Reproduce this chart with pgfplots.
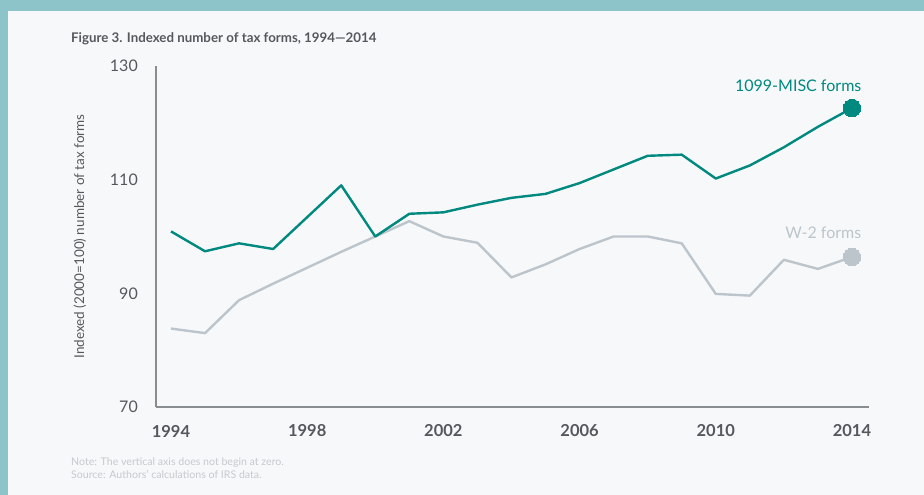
\documentclass[border=0pt]{standalone}
\usepackage{pgfplots}
\pgfplotsset{compat=1.18}
\usepackage{fontspec}
\setmainfont{Lato}
\definecolor{frame}{HTML}{8DC4C9}
\definecolor{panel}{HTML}{F7F8FA}
\definecolor{misc}{HTML}{00897F}
\definecolor{wtwo}{HTML}{BCC5CB}
\definecolor{txt}{HTML}{55595D}
\definecolor{axisc}{HTML}{8A8D90}
\definecolor{note}{HTML}{C5CACE}
\pgfplotstableread{
year misc w2
1994 100.9 83.8
1995 97.4 83.0
1996 98.8 88.8
1997 97.8 91.7
1998 103.4 94.5
1999 109.0 97.3
2000 100.0 100.0
2001 104.0 102.7
2002 104.25 100.0
2003 105.6 98.9
2004 106.8 92.8
2005 107.5 95.1
2006 109.4 97.8
2007 111.8 100.0
2008 114.2 100.0
2009 114.4 98.8
2010 110.2 89.9
2011 112.5 89.6
2012 115.7 95.9
2013 119.3 94.3
2014 122.6 96.4
}\datatable
\begin{document}
\begin{tikzpicture}
\fill[panel] (0pt,0pt) rectangle (924pt,-495pt);
\fill[frame] (0pt,0pt) rectangle (924pt,-11pt);
\fill[frame] (0pt,0pt) rectangle (8pt,-495pt);
\node[anchor=west, inner sep=0pt, font=\bfseries\fontsize{13.3}{15}\selectfont, text=txt] at (71pt,-39pt) {Figure 3. Indexed number of tax forms, 1994—2014};
\node[anchor=west, inner sep=0pt, font=\fontsize{10.6}{12}\selectfont, text=note] at (71pt,-463pt) {Note: The vertical axis does not begin at zero.};
\node[anchor=west, inner sep=0pt, font=\fontsize{10.6}{12}\selectfont, text=note] at (71pt,-474pt) {Source: Authors’ calculations of IRS data.};
\begin{axis}[
  at={(156pt,-407pt)}, anchor=south west,
  scale only axis, width=713pt, height=341pt,
  xmin=1993.56, xmax=2014.5, ymin=70, ymax=130,
  axis x line*=bottom, axis y line*=left,
  axis line style={draw=axisc, line width=1.2pt, -},
  major tick length=0pt,
  xtick={1994,1998,2002,2006,2010,2014},
  ytick={70,90,110,130},
  /pgf/number format/.cd, set thousands separator={}, assume math mode=true,
  /pgfplots/.cd,
  xticklabel style={font=\bfseries\fontsize{16.5}{18}\selectfont, text=txt, anchor=center, inner sep=0pt, yshift=-24pt},
  yticklabel style={font=\fontsize{16}{18}\selectfont, text=txt, anchor=east, inner sep=0pt, xshift=-18pt},
  ylabel={Indexed (2000=100) number of tax forms},
  every axis y label/.style={at={(axis description cs:-0.1066,0.5)}, rotate=90, anchor=center, font=\fontsize{13.5}{15}\selectfont, text=txt},
  clip=false,
]
\addplot[wtwo, line width=2.4pt, line join=round] table[x=year, y=w2] {\datatable};
\addplot[misc, line width=2.4pt, line join=round] table[x=year, y=misc] {\datatable};
\addplot[wtwo, only marks, mark=*, mark size=8.7pt, mark options={fill=wtwo, draw=wtwo, line width=0pt}] coordinates {(2014,96.4)};
\addplot[misc, only marks, mark=*, mark size=8.7pt, mark options={fill=misc, draw=misc, line width=0pt}] coordinates {(2014,122.6)};
\node[anchor=east, inner sep=0pt, font=\fontsize{16}{18}\selectfont, text=misc] at (axis cs:2014.28,126.5) {1099-MISC forms};
\node[anchor=east, inner sep=0pt, font=\fontsize{16}{18}\selectfont, text=wtwo] at (axis cs:2014.28,100.6) {W-2 forms};
\end{axis}
\end{tikzpicture}
\end{document}
